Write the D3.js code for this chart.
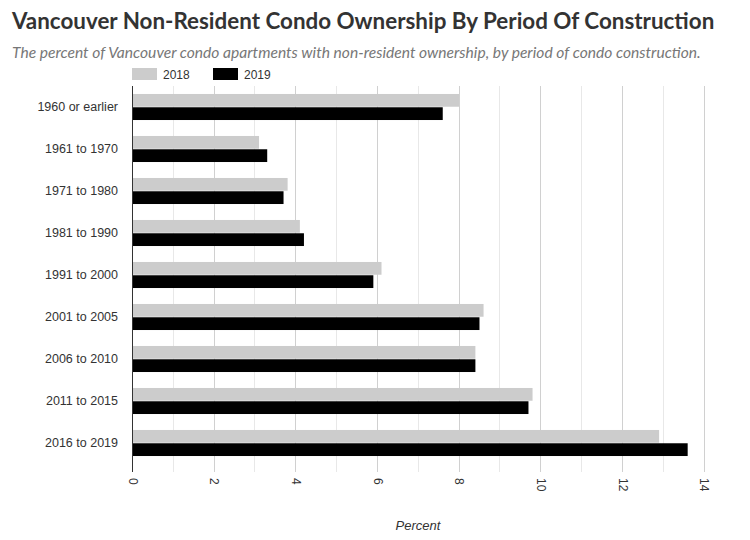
<!DOCTYPE html>
<html><head><meta charset="utf-8">
<script src="https://cdnjs.cloudflare.com/ajax/libs/d3/7.8.5/d3.min.js"></script>
<style>body{margin:0;background:#fff;}svg{display:block;}</style>
</head><body>
<svg id="c" width="750" height="540"></svg>
<script>
const categories = ["1960 or earlier","1961 to 1970","1971 to 1980","1981 to 1990","1991 to 2000","2001 to 2005","2006 to 2010","2011 to 2015","2016 to 2019"];
const seriesNames = ["2018","2019"];
const values2018 = [8.0,3.1,3.8,4.1,6.1,8.6,8.4,9.8,12.9];
const values2019 = [7.6,3.3,3.7,4.2,5.9,8.5,8.4,9.7,13.6];
const xTicks = [0,2,4,6,8,10,12,14];
const colors = ["#cccccc","#000000"];

const svg = d3.select("#c");
const m = {left:132.5, right:704, top:86, bottom:464};
const x = d3.scaleLinear().domain([0,14]).range([m.left,m.right]);
const y = d3.scaleBand().domain(categories).range([m.top,m.bottom]).paddingInner(0.38).paddingOuter(0.19);
const y1 = d3.scaleBand().domain(seriesNames).range([0,y.bandwidth()]).paddingInner(0.04);

svg.append("text").attr("x",12).attr("y",29).attr("font-family","Lato").attr("font-weight","bold")
  .attr("font-size",22.4).attr("fill","#333").text("Vancouver Non-Resident Condo Ownership By Period Of Construction");
svg.append("text").attr("x",12).attr("y",58).attr("font-family","Lato").attr("font-style","italic")
  .attr("font-size",15.6).attr("fill","#777").text("The percent of Vancouver condo apartments with non-resident ownership, by period of condo construction.");

// legend
const lg = svg.append("g");
const legX = [132,213];
seriesNames.forEach((s,i)=>{
  lg.append("rect").attr("x",legX[i]).attr("y",68).attr("width",25).attr("height",12).attr("fill",colors[i]);
  lg.append("text").attr("x",legX[i]+31).attr("y",79).attr("font-family","Liberation Sans, Arial").attr("font-size",12).attr("fill","#333").text(s);
});

// grid
const minor = d3.range(0,15,1);
svg.append("g").selectAll("line").data(minor).join("line")
  .attr("x1",d=>x(d)).attr("x2",d=>x(d)).attr("y1",m.top).attr("y2",m.bottom+8)
  .attr("stroke",d=>d%2===0?"#d0d0d0":"#e8e8e8").attr("stroke-width",1).attr("shape-rendering","crispEdges");

// bars
const data = [values2018, values2019];
const g = svg.append("g");
categories.forEach((c,ci)=>{
  seriesNames.forEach((s,si)=>{
    g.append("rect").attr("x",x(0)).attr("y",y(c)+y1(s)).attr("width",x(data[si][ci])-x(0))
      .attr("height",y1.bandwidth()).attr("fill",colors[si]);
  });
});

// y axis
const ya = svg.append("g").attr("transform",`translate(${m.left},0)`)
  .call(d3.axisLeft(y).tickSize(0).tickPadding(14.5));
ya.select(".domain").attr("stroke","#333").attr("d",`M0,${m.top}V${m.bottom+8}`);
ya.selectAll("text").attr("font-family","Liberation Sans, Arial").attr("font-size",12.5).attr("fill","#333");

// x axis labels
const xa = svg.append("g").attr("transform",`translate(0,${m.bottom})`)
  .call(d3.axisBottom(x).tickValues(xTicks).tickSize(0).tickPadding(0));
xa.select(".domain").remove();
xa.selectAll("text").attr("font-family","Liberation Sans, Arial").attr("font-size",12).attr("fill","#333")
  .attr("text-anchor","start").attr("dy","0.35em")
  .attr("transform",d=>`translate(${0},14) rotate(90)`).attr("y",0).attr("x",0);

svg.append("text").attr("x",418).attr("y",530).attr("text-anchor","middle").attr("font-family","Liberation Sans, Arial")
  .attr("font-style","italic").attr("font-size",13).attr("fill","#333").text("Percent");
</script>
</body></html>
